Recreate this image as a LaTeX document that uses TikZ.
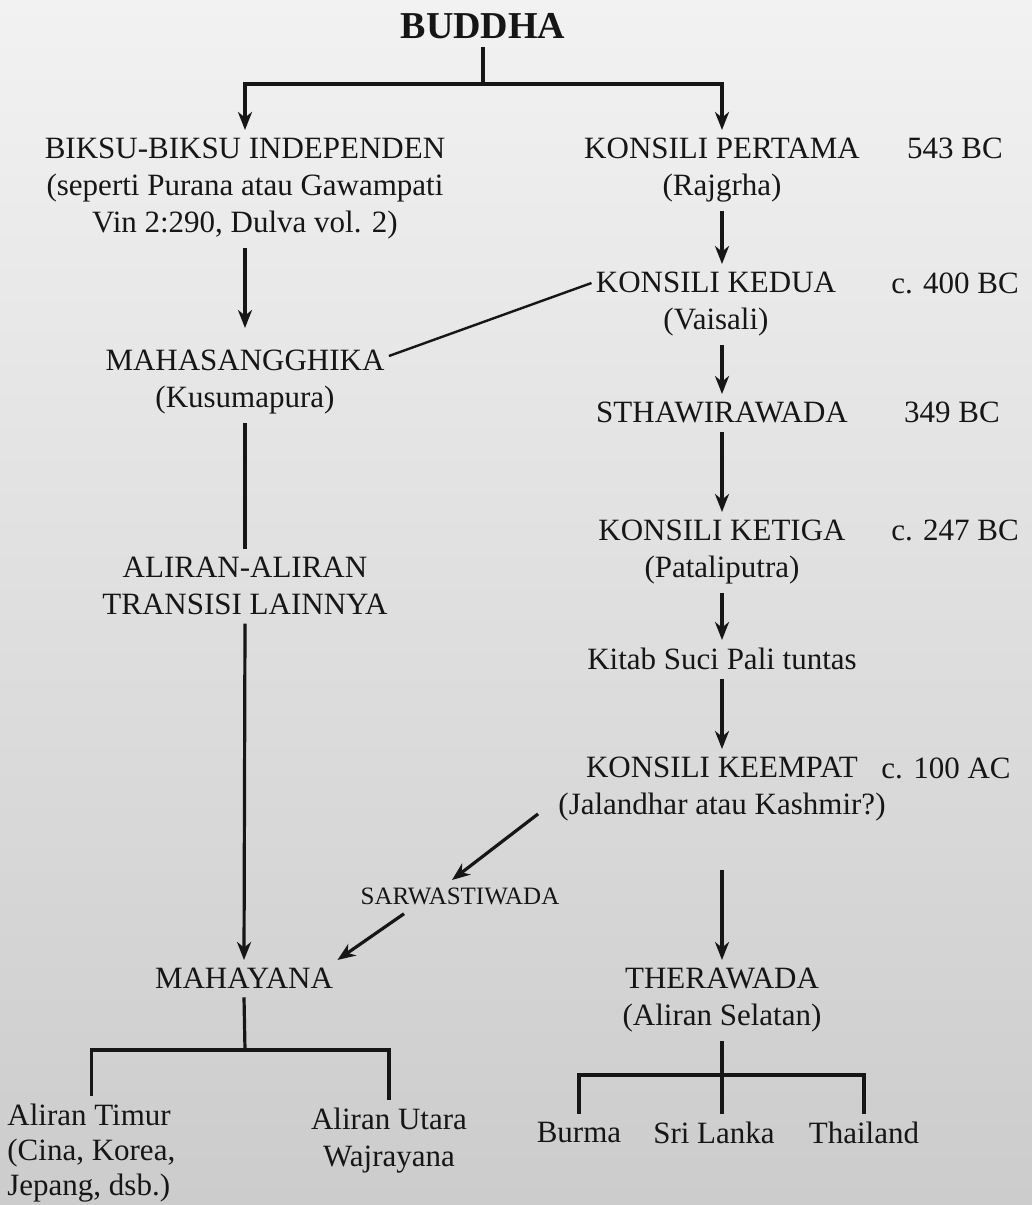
\documentclass[tikz,border=0pt]{standalone}
\usepackage{fontspec}
\setmainfont{Liberation Serif}
\usetikzlibrary{arrows.meta, positioning, calc}
\definecolor{bgtop}{RGB}{242,242,242}
\definecolor{bgbot}{RGB}{204,204,204}
\definecolor{ink}{RGB}{22,22,22}

\begin{document}
\begin{tikzpicture}[x=0.5pt, y=-0.5pt,
  lbl/.style={align=center, inner xsep=2pt, inner ysep=4pt, text=ink, font=\fontsize{15.5}{18.5}\selectfont, anchor=north},
  small/.style={lbl, font=\fontsize{12.5}{15}\selectfont},
  arr/.style={-{Stealth[length=9pt, width=7pt, inset=2.8pt]}, line width=1.6pt, draw=ink},
  ln/.style={line width=1.6pt, draw=ink}
]
\shade[top color=bgtop, bottom color=bgbot] (0,0) rectangle (1032,1205);
\useasboundingbox (0,0) rectangle (1032,1205);

\node[lbl, font=\bfseries\fontsize{19}{20}\selectfont] (buddha) at (483,5) {BUDDHA};
\node[lbl] (indep) at (245,130) {BIKSU-BIKSU INDEPENDEN\\(seperti Purana atau Gawampati\\Vin 2:290, Dulva vol. 2)};
\node[lbl] (kons1) at (722,130) {KONSILI PERTAMA\\(Rajgrha)};
\node[lbl] (d543) at (955,130) {543 BC};
\node[lbl] (kons2) at (716,264) {KONSILI KEDUA\\(Vaisali)};
\node[lbl] (d400) at (955,264) {c. 400 BC};
\node[lbl] (mahas) at (245,342) {MAHASANGGHIKA\\(Kusumapura)};
\node[lbl] (sthawira) at (722,394) {STHAWIRAWADA};
\node[lbl] (d349) at (952,394) {349 BC};
\node[lbl] (kons3) at (722,512) {KONSILI KETIGA\\(Pataliputra)};
\node[lbl] (d247) at (955,512) {c. 247 BC};
\node[lbl] (transisi) at (245,549) {ALIRAN-ALIRAN\\TRANSISI LAINNYA};
\node[lbl] (kitab) at (722,640) {Kitab Suci Pali tuntas};
\node[lbl] (kons4) at (722,749) {KONSILI KEEMPAT\\(Jalandhar atau Kashmir?)};
\node[lbl] (d100) at (946,749) {c. 100 AC};
\node[small] (sarwa) at (460,880) {SARWASTIWADA};
\node[lbl] (mahayana) at (244,960) {MAHAYANA};
\node[lbl] (therawada) at (722,960) {THERAWADA\\(Aliran Selatan)};
\node[lbl, anchor=north west, align=left, font=\fontsize{15.5}{17.5}\selectfont] (timur) at (3,1096) {Aliran Timur\\(Cina, Korea,\\Jepang, dsb.)};
\node[lbl] (utara) at (389,1100) {Aliran Utara\\Wajrayana};
\node[lbl] (burma) at (579,1114) {Burma};
\node[lbl] (srilanka) at (714,1114) {Sri Lanka};
\node[lbl] (thailand) at (864,1114) {Thailand};

\coordinate (split) at (483,84);
\coordinate (mbar) at (245,1050);
\coordinate (tbar) at (722,1075);

\draw[ln] (buddha.south) -- (split);
\draw[arr] (split) -| (indep.north);
\draw[arr] (split) -| (kons1.north);
\draw[arr] (kons1.south) -- (kons1.south |- kons2.north);
\draw[ln, line width=1.2pt] ([yshift=-9.5pt]kons2.north west) -- ([yshift=-7pt]mahas.north east);
\draw[arr, shorten >=7pt] (indep.south) -- (mahas.north);
\draw[arr] (kons2.south -| sthawira.north) -- (sthawira.north);
\draw[ln] (mahas.south) -- (transisi.north);
\draw[arr] (transisi.south) -- (mahayana.north);
\draw[arr] (sthawira.south) -- (kons3.north);
\draw[arr] (kons3.south) -- (kitab.north);
\draw[arr] (kitab.south) -- (kons4.north);
\draw[arr] ([xshift=-8pt, yshift=8pt]kons4.south west) -- ([xshift=-4pt]sarwa.north);
\draw[arr] ([xshift=-28pt]sarwa.south) -- (mahayana.north east);
\draw[arr, shorten <=20pt] (kons4.south) -- (therawada.north);
\draw[ln] (mahayana.south) -- (mbar);
\draw[ln] (timur.north) |- (mbar) -| (utara.north);
\draw[ln] (therawada.south) -- (therawada.south |- srilanka.north);
\draw[ln] (burma.north) |- (tbar) -| (thailand.north);
\end{tikzpicture}
\end{document}
